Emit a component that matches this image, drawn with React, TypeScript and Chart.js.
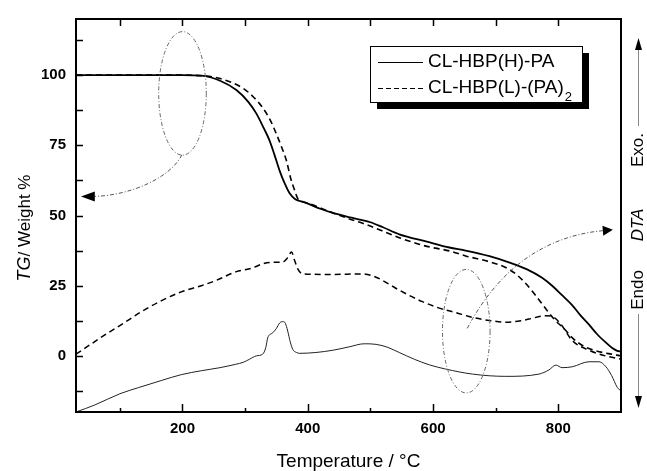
import React, { useEffect, useRef } from "react";
import { Chart, registerables } from "chart.js";

Chart.register(...registerables);

// ---- Data ----
const tgHTemp = [30, 100, 200, 230, 260, 286, 305, 318, 330, 339, 347, 355, 363, 371, 380, 395, 420, 440, 470, 500, 520, 546, 590, 626, 652, 690, 721, 750, 774, 791, 805, 822, 835, 849, 862, 876, 886, 894, 900];
const tgHValue = [100, 100, 100, 99.8, 98, 94.7, 90.5, 86.3, 81, 76.7, 71.5, 66, 61.5, 57.9, 55.8, 54.7, 52.4, 50.9, 49.2, 47.6, 45.8, 43.3, 40.7, 38.6, 37.5, 35.5, 33.3, 30.8, 27.8, 24.8, 21.8, 18.1, 14.5, 11.1, 7.7, 4.7, 2.8, 1.8, 1.5];

const tgLTemp = [30, 100, 200, 230, 260, 296, 312, 328, 340, 350, 358, 366, 373, 379, 384, 390, 400, 440, 470, 493, 546, 590, 626, 652, 690, 721, 745, 769, 793, 810, 822, 840, 860, 880, 900];
const tgLValue = [100, 100, 100, 99.8, 98.8, 95.4, 92.5, 88.4, 84, 79, 74.5, 69.5, 63, 59, 56, 55, 54.4, 50.9, 48.5, 46.8, 42.1, 39, 37.4, 35.6, 33.5, 30.9, 26.5, 20, 13.1, 9.5, 6.5, 3.5, 1.8, 0.8, 0];

const dtaHTemp = [30, 60, 100, 130, 166, 198, 230, 260, 285, 297, 307, 318, 328, 333, 336, 344, 350, 355, 360, 363, 366, 368, 372, 376, 382, 387, 413, 440, 466, 490, 509, 528, 546, 570, 594, 620, 663, 716, 769, 785, 796, 806, 822, 849, 865, 876, 885, 894, 900];
const dtaHValue = [-20, -17.5, -13.5, -11.3, -8.8, -6.7, -5.3, -4.2, -3, -2.3, -1.2, 0, 0.6, 3, 6.4, 8.2, 9.8, 11.7, 12.2, 12, 10.5, 8.8, 5, 2.3, 1.2, 0.9, 1.2, 2, 3.2, 4.3, 4.1, 3, 1.2, -1.2, -3.2, -4.7, -6.5, -7.3, -6.5, -5, -3.3, -4.2, -3.9, -2.1, -2.1, -3.9, -7, -11.2, -12.5];

const dtaLTemp = [30, 73, 105, 135, 165, 198, 230, 254, 286, 307, 339, 360, 368, 374, 379, 384, 392, 440, 488, 509, 530, 546, 583, 610, 635, 663, 690, 716, 740, 753, 780, 793, 805, 822, 849, 875, 900];
const dtaLValue = [0.6, 7, 11.5, 15.8, 19.5, 22.8, 25, 26.9, 30, 31, 33.3, 33.4, 35, 37, 34, 31, 29.2, 29, 29.2, 28, 25.5, 23.4, 19.3, 17, 15.5, 13.7, 12.6, 12, 12.5, 13.1, 14.3, 13.7, 11, 5.5, 2, 0, -1.2];

const seriesNames = ["CL-HBP(H)-PA", "CL-HBP(L)-(PA)"];
const seriesSubscript = ["", "2"];

const xMin = 30;
const xMax = 900;
const yMin = -20;
const yMax = 120;
const xMajorTicks = [200, 400, 600, 800];
const xMinorTicks = [100, 300, 500, 700];
const yMajorTicks = [0, 25, 50, 75, 100];
const yMinorTicks = [-12.5, 12.5, 37.5, 62.5, 87.5, 112.5];

const xTitle = "Temperature / °C";
const yTitleItalic = "TG";
const yTitleRest = "/ Weight %";
const rightLabels = ["Exo.", "DTA", "Endo"];

// annotation ellipses and arrows in data coordinates
const ellipseCenters = [
  { x: 200, y: 93.5 },
  { x: 653, y: 8.8 },
];
const ellipseRadius = { x: 38, y: 22 };
const arrowPaths = [
  // start, control1, control2, end, tip
  [{ x: 199, y: 71.6 }, { x: 180, y: 63.2 }, { x: 116, y: 57.2 }, { x: 60, y: 56.8 }, { x: 38, y: 56.8 }],
  [{ x: 654.6, y: 9.8 }, { x: 689.7, y: 24.6 }, { x: 753, y: 42.1 }, { x: 871, y: 44.6 }, { x: 887, y: 44.9 }],
];

const FONT = "'Liberation Sans', Arial, sans-serif";

function toPoints(xs: number[], ys: number[]) {
  return xs.map((x, i) => ({ x, y: ys[i] }));
}

const decorPlugin = {
  id: "decor",
  afterDraw(chart: any) {
    const ctx: CanvasRenderingContext2D = chart.ctx;
    const { left, right, top, bottom } = chart.chartArea;
    const xs = chart.scales.x;
    const ys = chart.scales.y;
    const px = (v: number) => xs.getPixelForValue(v);
    const py = (v: number) => ys.getPixelForValue(v);
    ctx.save();

    // frame
    ctx.strokeStyle = "#000";
    ctx.lineWidth = 2;
    ctx.setLineDash([]);
    ctx.strokeRect(left, top, right - left, bottom - top);

    // ticks
    ctx.lineWidth = 1.5;
    ctx.beginPath();
    xMajorTicks.forEach((v) => {
      const x = Math.round(px(v)) + 0.5;
      ctx.moveTo(x, bottom); ctx.lineTo(x, bottom - 8);
      ctx.moveTo(x, top); ctx.lineTo(x, top + 7);
    });
    xMinorTicks.forEach((v) => {
      const x = Math.round(px(v)) + 0.5;
      ctx.moveTo(x, bottom); ctx.lineTo(x, bottom - 4);
      ctx.moveTo(x, top); ctx.lineTo(x, top + 7);
    });
    [...yMajorTicks, ...yMinorTicks].forEach((v) => {
      const y = Math.round(py(v)) + 0.5;
      ctx.moveTo(left, y); ctx.lineTo(left + 7, y);
    });
    ctx.stroke();

    // ellipses
    ctx.strokeStyle = "#666";
    ctx.lineWidth = 1;
    ctx.setLineDash([4, 2, 1, 2]);
    ellipseCenters.forEach((c) => {
      const cx = px(c.x);
      const cy = py(c.y);
      const rx = Math.abs(px(c.x + ellipseRadius.x) - cx);
      const ry = Math.abs(py(c.y + ellipseRadius.y) - cy);
      ctx.beginPath();
      ctx.ellipse(cx, cy, rx, ry, 0, 0, Math.PI * 2);
      ctx.stroke();
    });

    // arrows
    arrowPaths.forEach((p) => {
      ctx.strokeStyle = "#555";
      ctx.setLineDash([4, 2, 1, 2]);
      ctx.lineWidth = 1;
      ctx.beginPath();
      ctx.moveTo(px(p[0].x), py(p[0].y));
      ctx.bezierCurveTo(px(p[1].x), py(p[1].y), px(p[2].x), py(p[2].y), px(p[3].x), py(p[3].y));
      ctx.stroke();
      const bx = px(p[3].x), by = py(p[3].y);
      const tx = px(p[4].x), ty = py(p[4].y);
      const ang = Math.atan2(ty - by, tx - bx);
      const len = Math.hypot(tx - bx, ty - by);
      const hw = 5;
      ctx.setLineDash([]);
      ctx.fillStyle = "#000";
      ctx.beginPath();
      ctx.moveTo(tx, ty);
      ctx.lineTo(tx - len * Math.cos(ang) - hw * Math.sin(ang), ty - len * Math.sin(ang) + hw * Math.cos(ang));
      ctx.lineTo(tx - len * Math.cos(ang) + hw * Math.sin(ang), ty - len * Math.sin(ang) - hw * Math.cos(ang));
      ctx.closePath();
      ctx.fill();
    });

    // legend box
    const lx = 370, ly = 46, lw = 212, lh = 56;
    ctx.setLineDash([]);
    ctx.fillStyle = "#000";
    ctx.fillRect(lx + 7, ly + 7, lw, lh);
    ctx.fillStyle = "#fff";
    ctx.fillRect(lx, ly, lw, lh);
    ctx.strokeStyle = "#000";
    ctx.lineWidth = 1;
    ctx.strokeRect(lx + 0.5, ly + 0.5, lw, lh);
    const rows = [62, 88];
    rows.forEach((ry, i) => {
      ctx.setLineDash(i === 0 ? [] : [5, 3]);
      ctx.beginPath();
      ctx.moveTo(378, ry + 0.5);
      ctx.lineTo(423, ry + 0.5);
      ctx.stroke();
    });
    ctx.setLineDash([]);
    ctx.fillStyle = "#000";
    ctx.textBaseline = "middle";
    ctx.textAlign = "left";
    rows.forEach((ry, i) => {
      ctx.font = `19px ${FONT}`;
      ctx.fillText(seriesNames[i], 428, ry);
      if (seriesSubscript[i]) {
        const w = ctx.measureText(seriesNames[i]).width;
        ctx.font = `13px ${FONT}`;
        ctx.fillText(seriesSubscript[i], 428 + w + 1, ry + 9);
      }
    });

    // x title
    ctx.font = `19px ${FONT}`;
    ctx.textAlign = "center";
    ctx.textBaseline = "middle";
    ctx.fillText(xTitle, (left + right) / 2, 462);

    // y title (rotated)
    ctx.save();
    ctx.translate(25, 228);
    ctx.rotate(-Math.PI / 2);
    ctx.font = `italic 18px ${FONT}`;
    const wi = ctx.measureText(yTitleItalic).width;
    ctx.font = `17px ${FONT}`;
    const wr = ctx.measureText(yTitleRest).width;
    const total = wi + wr;
    ctx.textAlign = "left";
    ctx.font = `italic 18px ${FONT}`;
    ctx.fillText(yTitleItalic, -total / 2, 0);
    ctx.font = `17px ${FONT}`;
    ctx.fillText(yTitleRest, -total / 2 + wi, 0);
    ctx.restore();

    // right side labels
    const rx = 638;
    const labelYs = [150, 225, 290];
    rightLabels.forEach((t, i) => {
      ctx.save();
      ctx.translate(rx, labelYs[i]);
      ctx.rotate(-Math.PI / 2);
      ctx.font = i === 1 ? `italic 17px ${FONT}` : `17px ${FONT}`;
      ctx.textAlign = "center";
      ctx.textBaseline = "middle";
      ctx.fillText(t, 0, 0);
      ctx.restore();
    });
    ctx.strokeStyle = "#888";
    ctx.lineWidth = 1;
    ctx.beginPath();
    ctx.moveTo(rx + 0.5, 48); ctx.lineTo(rx + 0.5, 126);
    ctx.moveTo(rx + 0.5, 314); ctx.lineTo(rx + 0.5, 398);
    ctx.stroke();
    ctx.fillStyle = "#000";
    ctx.beginPath();
    ctx.moveTo(rx + 0.5, 38); ctx.lineTo(rx - 3, 50); ctx.lineTo(rx + 4, 50); ctx.closePath();
    ctx.fill();
    ctx.beginPath();
    ctx.moveTo(rx + 0.5, 408); ctx.lineTo(rx - 3, 396); ctx.lineTo(rx + 4, 396); ctx.closePath();
    ctx.fill();

    ctx.restore();
  },
};

export default function App() {
  const ref = useRef<HTMLCanvasElement | null>(null);
  useEffect(() => {
    if (!ref.current) return;
    const chart = new Chart(ref.current, {
      type: "line",
      data: {
        datasets: [
          { label: "TG H", data: toPoints(tgHTemp, tgHValue), borderColor: "#000", borderWidth: 1.8, pointRadius: 0, tension: 0.3, cubicInterpolationMode: "monotone" },
          { label: "TG L", data: toPoints(tgLTemp, tgLValue), borderColor: "#000", borderWidth: 1.6, borderDash: [6, 4], pointRadius: 0, tension: 0.3, cubicInterpolationMode: "monotone" },
          { label: "DTA H", data: toPoints(dtaHTemp, dtaHValue), borderColor: "#222", borderWidth: 1, pointRadius: 0, tension: 0.3, cubicInterpolationMode: "monotone" },
          { label: "DTA L", data: toPoints(dtaLTemp, dtaLValue), borderColor: "#000", borderWidth: 1.5, borderDash: [6, 4], pointRadius: 0, tension: 0.3, cubicInterpolationMode: "monotone" },
        ] as any,
      },
      options: {
        animation: false,
        responsive: false,
        devicePixelRatio: 1,
        layout: { padding: { left: 0, top: 14, right: 26, bottom: 0 } },
        plugins: { legend: { display: false }, tooltip: { enabled: false } },
        scales: {
          x: {
            type: "linear",
            min: xMin,
            max: xMax,
            grid: { display: false, drawTicks: false },
            border: { display: false },
            afterBuildTicks: (s: any) => { s.ticks = xMajorTicks.map((v) => ({ value: v })); },
            afterFit: (s: any) => { s.height = 59; },
            ticks: { color: "#000", padding: 8, maxRotation: 0, font: { family: FONT, size: 15, weight: "bold" } },
          },
          y: {
            type: "linear",
            min: yMin,
            max: yMax,
            grid: { display: false, drawTicks: false },
            border: { display: false },
            afterBuildTicks: (s: any) => { s.ticks = yMajorTicks.map((v) => ({ value: v })); },
            afterFit: (s: any) => { s.width = 76; },
            ticks: { color: "#000", padding: 10, font: { family: FONT, size: 15, weight: "bold" } },
          },
        },
      } as any,
      plugins: [decorPlugin],
    });
    return () => chart.destroy();
  }, []);
  return (
    <div style={{ position: "fixed", left: 0, top: 0, width: 647, height: 471, background: "#fff" }}>
      <canvas ref={ref} width={647} height={471} style={{ width: 647, height: 471 }} />
    </div>
  );
}
